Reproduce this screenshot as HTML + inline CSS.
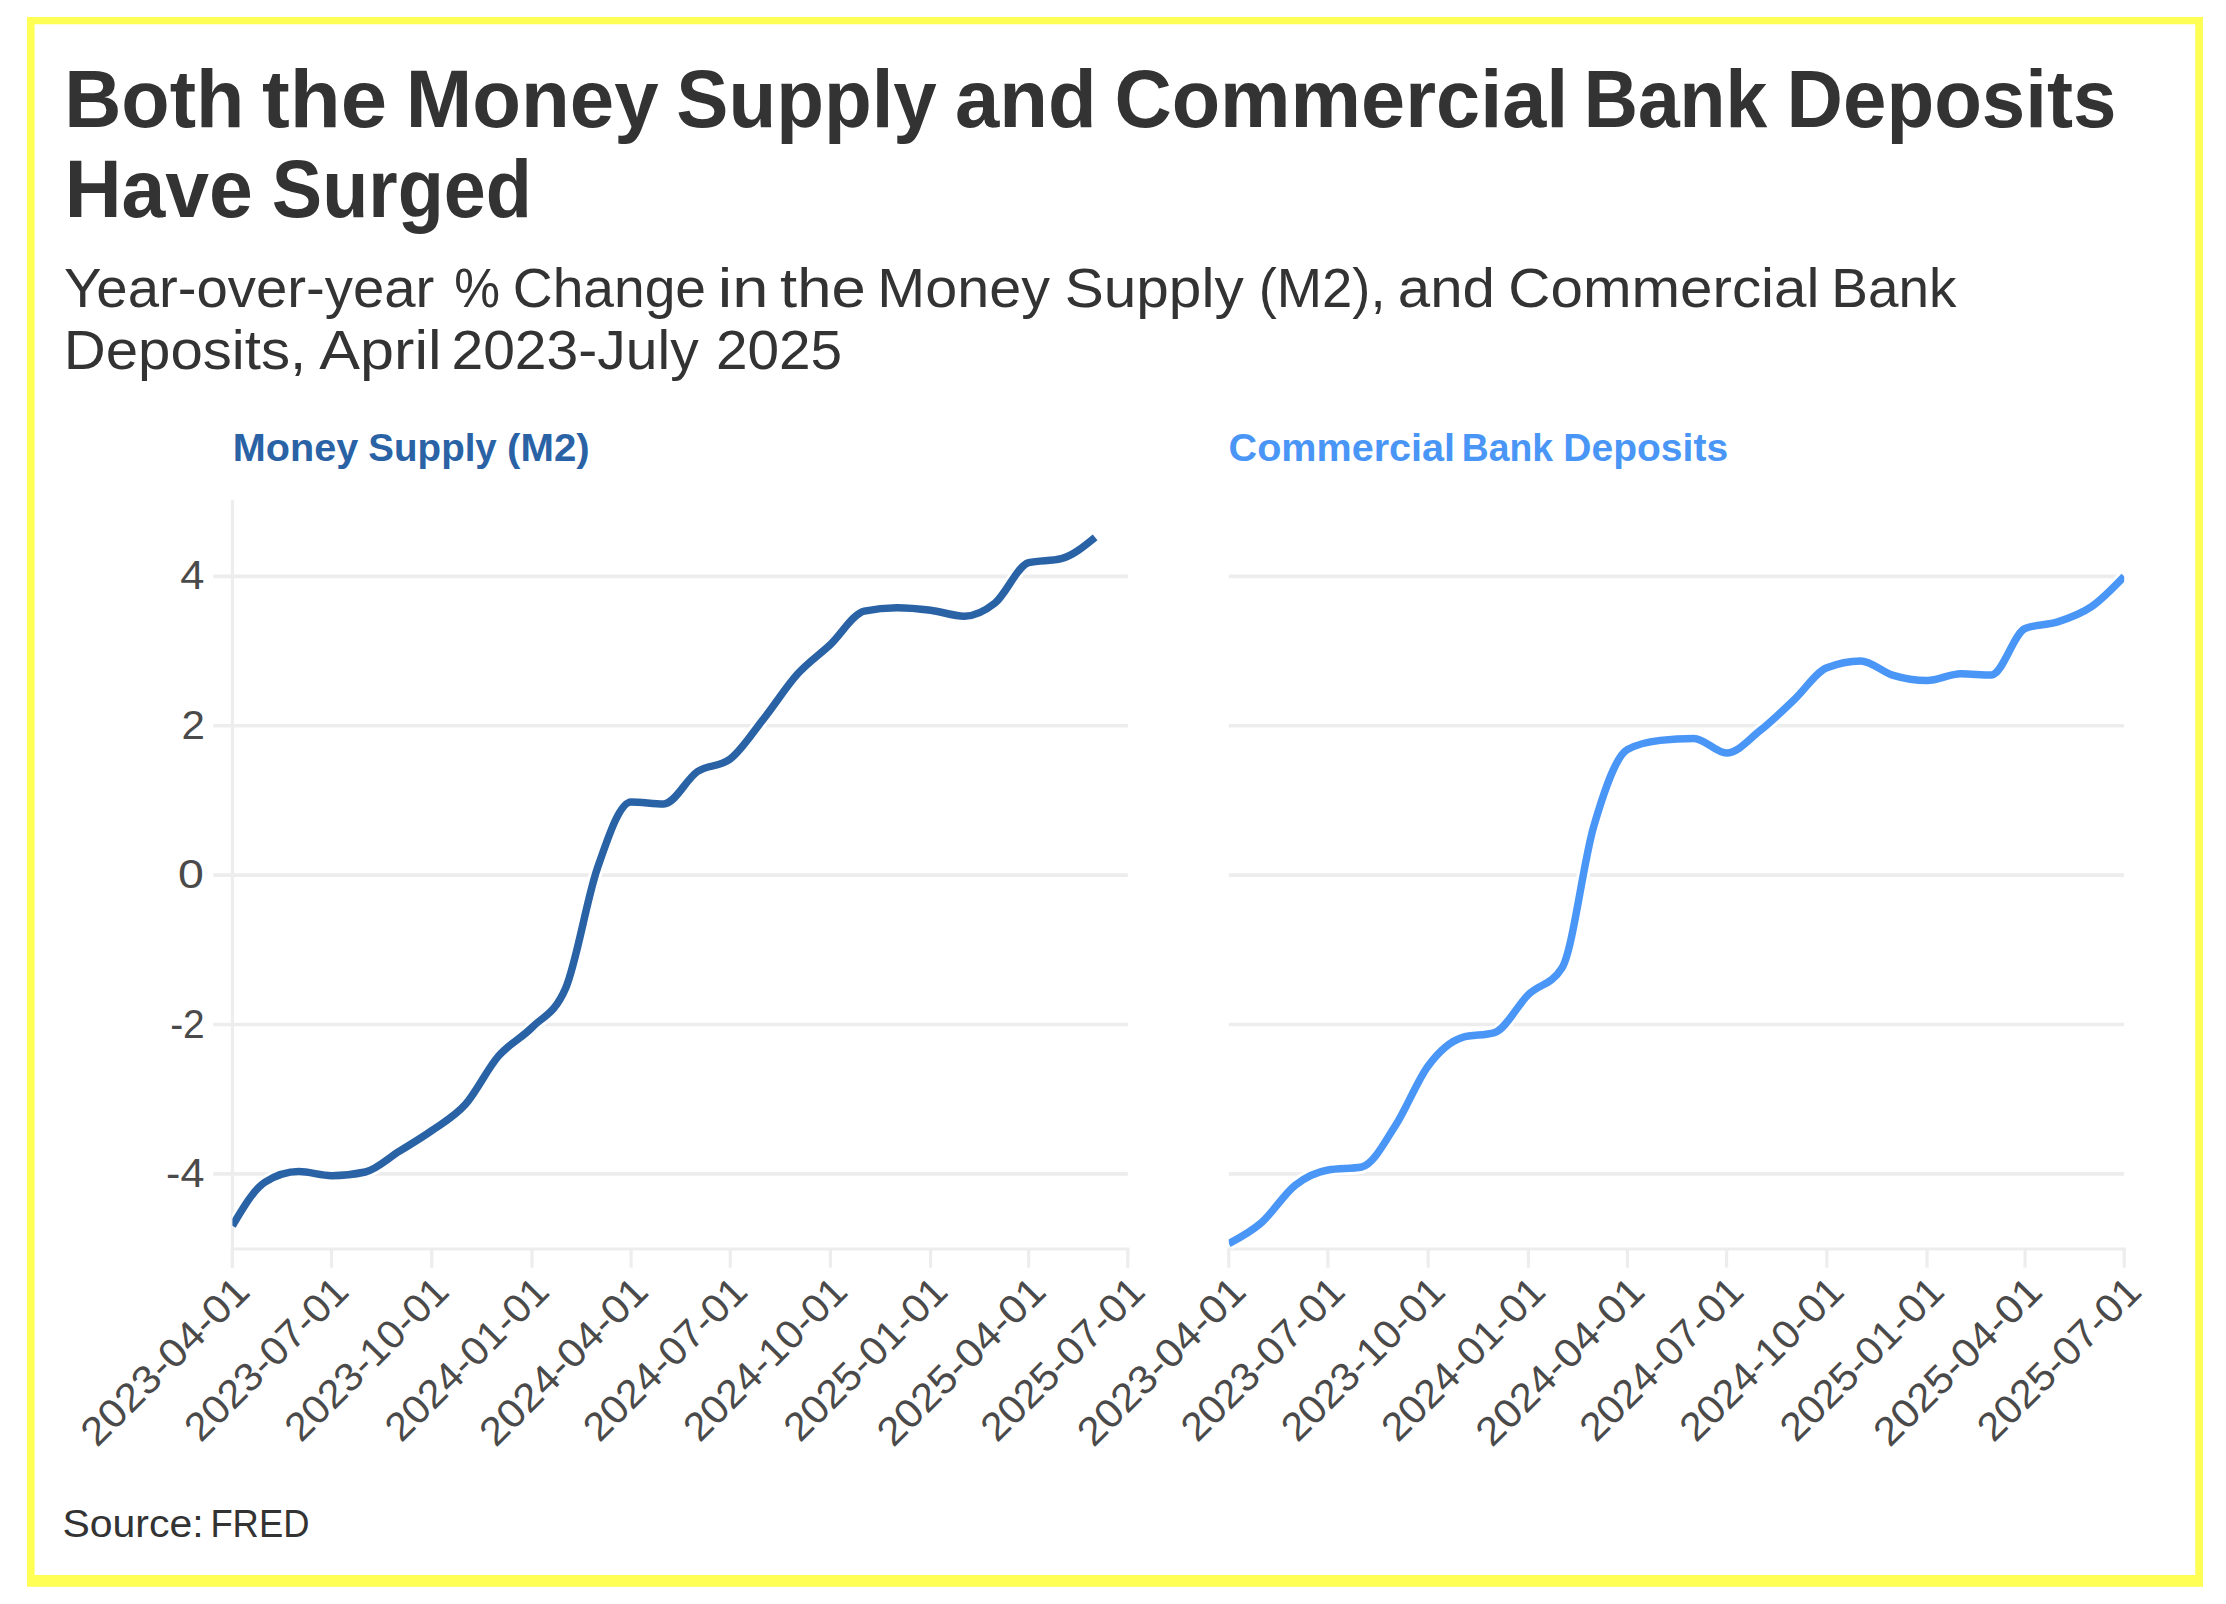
<!DOCTYPE html>
<html lang="en"><head><meta charset="utf-8"><title>Both the Money Supply and Commercial Bank Deposits Have Surged</title>
<style>
html,body{margin:0;padding:0;background:#fff;}
body{width:2226px;height:1604px;position:relative;overflow:hidden;font-family:"Liberation Sans",sans-serif;}
svg text{font-family:"Liberation Sans",sans-serif;}
.ttl{font-size:80.7px;font-weight:700;fill:#333;}
.sub{font-size:55.4px;fill:#333;}
.st{font-size:38.4px;font-weight:700;}
.yl{font-size:39.8px;fill:#4a4a4a;}
.xl{font-size:39.8px;fill:#4a4a4a;}
.src{font-size:38.4px;fill:#333;}
</style></head><body>
<svg width="2226" height="1604" viewBox="0 0 2226 1604" style="position:absolute;left:0;top:0">
<path fill="#ffff54" fill-rule="evenodd" d="M27,16.9H2203V1586.8H27Z M34.6,24.3H2195.3V1575.1H34.6Z"/>
<line x1="213.3" x2="1127.8" y1="576.4" y2="576.4" stroke="#ededed" stroke-width="3.6"/>
<line x1="1228.8" x2="2124.2" y1="576.4" y2="576.4" stroke="#ededed" stroke-width="3.6"/>
<line x1="213.3" x2="1127.8" y1="725.8" y2="725.8" stroke="#ededed" stroke-width="3.6"/>
<line x1="1228.8" x2="2124.2" y1="725.8" y2="725.8" stroke="#ededed" stroke-width="3.6"/>
<line x1="213.3" x2="1127.8" y1="875.1" y2="875.1" stroke="#ededed" stroke-width="3.6"/>
<line x1="1228.8" x2="2124.2" y1="875.1" y2="875.1" stroke="#ededed" stroke-width="3.6"/>
<line x1="213.3" x2="1127.8" y1="1024.5" y2="1024.5" stroke="#ededed" stroke-width="3.6"/>
<line x1="1228.8" x2="2124.2" y1="1024.5" y2="1024.5" stroke="#ededed" stroke-width="3.6"/>
<line x1="213.3" x2="1127.8" y1="1173.9" y2="1173.9" stroke="#ededed" stroke-width="3.6"/>
<line x1="1228.8" x2="2124.2" y1="1173.9" y2="1173.9" stroke="#ededed" stroke-width="3.6"/>
<line x1="232.4" x2="232.4" y1="499.8" y2="1267.7" stroke="#ededed" stroke-width="3.2"/>
<line x1="230.8" x2="1129.4" y1="1249" y2="1249" stroke="#ededed" stroke-width="3.2"/>
<line x1="1227.2" x2="2125.8" y1="1249" y2="1249" stroke="#ededed" stroke-width="3.2"/>
<line x1="232.40" x2="232.40" y1="1249" y2="1267.7" stroke="#ededed" stroke-width="3.2"/>
<line x1="1228.80" x2="1228.80" y1="1249" y2="1267.7" stroke="#ededed" stroke-width="3.2"/>
<line x1="331.53" x2="331.53" y1="1249" y2="1267.7" stroke="#ededed" stroke-width="3.2"/>
<line x1="1327.93" x2="1327.93" y1="1249" y2="1267.7" stroke="#ededed" stroke-width="3.2"/>
<line x1="431.74" x2="431.74" y1="1249" y2="1267.7" stroke="#ededed" stroke-width="3.2"/>
<line x1="1428.14" x2="1428.14" y1="1249" y2="1267.7" stroke="#ededed" stroke-width="3.2"/>
<line x1="531.96" x2="531.96" y1="1249" y2="1267.7" stroke="#ededed" stroke-width="3.2"/>
<line x1="1528.36" x2="1528.36" y1="1249" y2="1267.7" stroke="#ededed" stroke-width="3.2"/>
<line x1="631.08" x2="631.08" y1="1249" y2="1267.7" stroke="#ededed" stroke-width="3.2"/>
<line x1="1627.48" x2="1627.48" y1="1249" y2="1267.7" stroke="#ededed" stroke-width="3.2"/>
<line x1="730.21" x2="730.21" y1="1249" y2="1267.7" stroke="#ededed" stroke-width="3.2"/>
<line x1="1726.61" x2="1726.61" y1="1249" y2="1267.7" stroke="#ededed" stroke-width="3.2"/>
<line x1="830.42" x2="830.42" y1="1249" y2="1267.7" stroke="#ededed" stroke-width="3.2"/>
<line x1="1826.82" x2="1826.82" y1="1249" y2="1267.7" stroke="#ededed" stroke-width="3.2"/>
<line x1="930.64" x2="930.64" y1="1249" y2="1267.7" stroke="#ededed" stroke-width="3.2"/>
<line x1="1927.04" x2="1927.04" y1="1249" y2="1267.7" stroke="#ededed" stroke-width="3.2"/>
<line x1="1028.67" x2="1028.67" y1="1249" y2="1267.7" stroke="#ededed" stroke-width="3.2"/>
<line x1="2025.07" x2="2025.07" y1="1249" y2="1267.7" stroke="#ededed" stroke-width="3.2"/>
<line x1="1127.80" x2="1127.80" y1="1249" y2="1267.7" stroke="#ededed" stroke-width="3.2"/>
<line x1="2124.20" x2="2124.20" y1="1249" y2="1267.7" stroke="#ededed" stroke-width="3.2"/>
<text class="yl"  y="589.40"><tspan x="180.30" textLength="24.17" lengthAdjust="spacingAndGlyphs">4</tspan></text>
<text class="yl"  y="738.80"><tspan x="181.48" textLength="23.44" lengthAdjust="spacingAndGlyphs">2</tspan></text>
<text class="yl"  y="888.10"><tspan x="177.99" textLength="25.83" lengthAdjust="spacingAndGlyphs">0</tspan></text>
<text class="yl"  y="1037.50"><tspan x="170.17" textLength="34.58" lengthAdjust="spacingAndGlyphs">-2</tspan></text>
<text class="yl"  y="1186.90"><tspan x="166.08" textLength="38.38" lengthAdjust="spacingAndGlyphs">-4</tspan></text>
<text class="xl" transform="translate(250.30,1295.00) rotate(-45) scale(1.0750,1) translate(-201.64,0)">2023-04-01</text>
<text class="xl" transform="translate(1246.70,1295.00) rotate(-45) scale(1.0750,1) translate(-201.64,0)">2023-04-01</text>
<text class="xl" transform="translate(349.43,1295.00) rotate(-45) scale(1.0422,1) translate(-201.64,0)">2023-07-01</text>
<text class="xl" transform="translate(1345.83,1295.00) rotate(-45) scale(1.0422,1) translate(-201.64,0)">2023-07-01</text>
<text class="xl" transform="translate(449.64,1295.00) rotate(-45) scale(1.0422,1) translate(-201.64,0)">2023-10-01</text>
<text class="xl" transform="translate(1446.04,1295.00) rotate(-45) scale(1.0422,1) translate(-201.64,0)">2023-10-01</text>
<text class="xl" transform="translate(549.86,1295.00) rotate(-45) scale(1.0422,1) translate(-201.64,0)">2024-01-01</text>
<text class="xl" transform="translate(1546.26,1295.00) rotate(-45) scale(1.0422,1) translate(-201.64,0)">2024-01-01</text>
<text class="xl" transform="translate(648.98,1295.00) rotate(-45) scale(1.0750,1) translate(-201.64,0)">2024-04-01</text>
<text class="xl" transform="translate(1645.38,1295.00) rotate(-45) scale(1.0750,1) translate(-201.64,0)">2024-04-01</text>
<text class="xl" transform="translate(748.11,1295.00) rotate(-45) scale(1.0422,1) translate(-201.64,0)">2024-07-01</text>
<text class="xl" transform="translate(1744.51,1295.00) rotate(-45) scale(1.0422,1) translate(-201.64,0)">2024-07-01</text>
<text class="xl" transform="translate(848.32,1295.00) rotate(-45) scale(1.0422,1) translate(-201.64,0)">2024-10-01</text>
<text class="xl" transform="translate(1844.72,1295.00) rotate(-45) scale(1.0422,1) translate(-201.64,0)">2024-10-01</text>
<text class="xl" transform="translate(948.54,1295.00) rotate(-45) scale(1.0422,1) translate(-201.64,0)">2025-01-01</text>
<text class="xl" transform="translate(1944.94,1295.00) rotate(-45) scale(1.0422,1) translate(-201.64,0)">2025-01-01</text>
<text class="xl" transform="translate(1046.57,1295.00) rotate(-45) scale(1.0750,1) translate(-201.64,0)">2025-04-01</text>
<text class="xl" transform="translate(2042.97,1295.00) rotate(-45) scale(1.0750,1) translate(-201.64,0)">2025-04-01</text>
<text class="xl" transform="translate(1145.70,1295.00) rotate(-45) scale(1.0422,1) translate(-201.64,0)">2025-07-01</text>
<text class="xl" transform="translate(2142.10,1295.00) rotate(-45) scale(1.0422,1) translate(-201.64,0)">2025-07-01</text>
<defs><clipPath id="cl"><rect x="232.4" y="480" width="895.4" height="790"/></clipPath><clipPath id="cr"><rect x="1228.8" y="480" width="895.4" height="790"/></clipPath></defs>
<path clip-path="url(#cl)" d="M232.40,1225.80C243.29,1207.34,254.19,1188.87,265.08,1182.10C276.33,1175.10,287.59,1171.60,298.85,1171.60C309.74,1171.60,320.63,1175.70,331.53,1175.70C342.78,1175.70,354.04,1174.47,365.29,1172.00C376.55,1169.53,387.81,1158.42,399.06,1151.40C409.95,1144.61,420.85,1138.30,431.74,1130.60C443.00,1122.65,454.25,1117.00,465.51,1104.30C476.40,1092.01,487.29,1069.10,498.19,1056.40C509.44,1043.28,520.70,1038.90,531.96,1027.50C543.21,1016.10,554.47,1014.33,565.72,988.00C576.25,963.37,586.78,899.12,597.31,868.50C608.57,835.77,619.83,801.90,631.08,801.90C641.97,801.90,652.87,803.90,663.76,803.90C675.02,803.90,686.27,779.00,697.53,771.50C708.42,764.24,719.31,767.33,730.21,759.00C741.46,750.39,752.72,732.50,763.98,718.30C775.23,704.10,786.49,686.22,797.74,673.80C808.64,661.78,819.53,654.75,830.42,644.50C841.68,633.91,852.93,613.61,864.19,611.20C875.08,608.87,885.98,607.70,896.87,607.70C908.13,607.70,919.38,608.78,930.64,610.20C941.89,611.62,953.15,616.20,964.41,616.20C974.57,616.20,984.74,611.17,994.91,603.10C1006.16,594.17,1017.42,565.52,1028.67,562.70C1039.57,559.97,1050.46,561.33,1061.35,558.60C1072.61,555.78,1083.87,546.59,1095.12,537.40" fill="none" stroke="#fff" stroke-width="13" stroke-linecap="butt" stroke-linejoin="round"/>
<path clip-path="url(#cl)" d="M232.40,1225.80C243.29,1207.34,254.19,1188.87,265.08,1182.10C276.33,1175.10,287.59,1171.60,298.85,1171.60C309.74,1171.60,320.63,1175.70,331.53,1175.70C342.78,1175.70,354.04,1174.47,365.29,1172.00C376.55,1169.53,387.81,1158.42,399.06,1151.40C409.95,1144.61,420.85,1138.30,431.74,1130.60C443.00,1122.65,454.25,1117.00,465.51,1104.30C476.40,1092.01,487.29,1069.10,498.19,1056.40C509.44,1043.28,520.70,1038.90,531.96,1027.50C543.21,1016.10,554.47,1014.33,565.72,988.00C576.25,963.37,586.78,899.12,597.31,868.50C608.57,835.77,619.83,801.90,631.08,801.90C641.97,801.90,652.87,803.90,663.76,803.90C675.02,803.90,686.27,779.00,697.53,771.50C708.42,764.24,719.31,767.33,730.21,759.00C741.46,750.39,752.72,732.50,763.98,718.30C775.23,704.10,786.49,686.22,797.74,673.80C808.64,661.78,819.53,654.75,830.42,644.50C841.68,633.91,852.93,613.61,864.19,611.20C875.08,608.87,885.98,607.70,896.87,607.70C908.13,607.70,919.38,608.78,930.64,610.20C941.89,611.62,953.15,616.20,964.41,616.20C974.57,616.20,984.74,611.17,994.91,603.10C1006.16,594.17,1017.42,565.52,1028.67,562.70C1039.57,559.97,1050.46,561.33,1061.35,558.60C1072.61,555.78,1083.87,546.59,1095.12,537.40" fill="none" stroke="#2a62a6" stroke-width="7.5" stroke-linecap="butt" stroke-linejoin="round"/>
<path clip-path="url(#cr)" d="M1228.80,1243.60C1239.69,1237.85,1250.59,1232.09,1261.48,1222.60C1272.73,1212.79,1283.99,1193.99,1295.25,1185.20C1306.14,1176.69,1317.03,1171.94,1327.93,1170.00C1339.18,1168.00,1350.44,1169.00,1361.69,1167.00C1372.95,1165.00,1384.21,1142.74,1395.46,1125.50C1406.35,1108.82,1417.25,1080.49,1428.14,1065.90C1439.40,1050.83,1450.65,1041.04,1461.91,1037.60C1472.80,1034.27,1483.69,1035.93,1494.59,1032.60C1505.84,1029.16,1517.10,1005.42,1528.36,994.60C1539.61,983.78,1550.87,985.63,1562.12,967.70C1572.65,950.92,1583.18,862.42,1593.71,826.50C1604.97,788.10,1616.23,755.77,1627.48,749.50C1638.37,743.43,1649.27,741.69,1660.16,740.40C1671.42,739.07,1682.67,738.40,1693.93,738.40C1704.82,738.40,1715.71,753.00,1726.61,753.00C1737.86,753.00,1749.12,739.18,1760.38,730.30C1771.63,721.42,1782.89,710.30,1794.14,699.70C1805.04,689.44,1815.93,672.25,1826.82,667.80C1838.08,663.20,1849.33,660.90,1860.59,660.90C1871.48,660.90,1882.38,672.13,1893.27,675.40C1904.53,678.77,1915.78,680.50,1927.04,680.50C1938.29,680.50,1949.55,673.80,1960.81,673.80C1970.97,673.80,1981.14,675.00,1991.31,675.00C2002.56,675.00,2013.82,633.05,2025.07,628.50C2035.97,624.10,2046.86,625.43,2057.75,621.90C2069.01,618.25,2080.27,614.50,2091.52,606.70C2102.41,599.16,2113.31,587.78,2124.20,576.40" fill="none" stroke="#fff" stroke-width="13" stroke-linecap="butt" stroke-linejoin="round"/>
<path clip-path="url(#cr)" d="M1228.80,1243.60C1239.69,1237.85,1250.59,1232.09,1261.48,1222.60C1272.73,1212.79,1283.99,1193.99,1295.25,1185.20C1306.14,1176.69,1317.03,1171.94,1327.93,1170.00C1339.18,1168.00,1350.44,1169.00,1361.69,1167.00C1372.95,1165.00,1384.21,1142.74,1395.46,1125.50C1406.35,1108.82,1417.25,1080.49,1428.14,1065.90C1439.40,1050.83,1450.65,1041.04,1461.91,1037.60C1472.80,1034.27,1483.69,1035.93,1494.59,1032.60C1505.84,1029.16,1517.10,1005.42,1528.36,994.60C1539.61,983.78,1550.87,985.63,1562.12,967.70C1572.65,950.92,1583.18,862.42,1593.71,826.50C1604.97,788.10,1616.23,755.77,1627.48,749.50C1638.37,743.43,1649.27,741.69,1660.16,740.40C1671.42,739.07,1682.67,738.40,1693.93,738.40C1704.82,738.40,1715.71,753.00,1726.61,753.00C1737.86,753.00,1749.12,739.18,1760.38,730.30C1771.63,721.42,1782.89,710.30,1794.14,699.70C1805.04,689.44,1815.93,672.25,1826.82,667.80C1838.08,663.20,1849.33,660.90,1860.59,660.90C1871.48,660.90,1882.38,672.13,1893.27,675.40C1904.53,678.77,1915.78,680.50,1927.04,680.50C1938.29,680.50,1949.55,673.80,1960.81,673.80C1970.97,673.80,1981.14,675.00,1991.31,675.00C2002.56,675.00,2013.82,633.05,2025.07,628.50C2035.97,624.10,2046.86,625.43,2057.75,621.90C2069.01,618.25,2080.27,614.50,2091.52,606.70C2102.41,599.16,2113.31,587.78,2124.20,576.40" fill="none" stroke="#4a96f6" stroke-width="7.5" stroke-linecap="butt" stroke-linejoin="round"/>
<text class="st" fill="#2a62a6" y="461.00"><tspan x="232.85" textLength="125.57" lengthAdjust="spacingAndGlyphs">Money</tspan> <tspan x="368.39" textLength="128.42" lengthAdjust="spacingAndGlyphs">Supply</tspan> <tspan x="507.10" textLength="82.60" lengthAdjust="spacingAndGlyphs">(M2)</tspan></text>
<text class="st" fill="#4a96f6" y="461.00"><tspan x="1228.58" textLength="226.52" lengthAdjust="spacingAndGlyphs">Commercial</tspan> <tspan x="1461.70" textLength="91.26" lengthAdjust="spacingAndGlyphs">Bank</tspan> <tspan x="1563.39" textLength="164.71" lengthAdjust="spacingAndGlyphs">Deposits</tspan></text>
<text class="ttl"  y="127.20"><tspan x="64.21" textLength="180.10" lengthAdjust="spacingAndGlyphs">Both</tspan> <tspan x="261.98" textLength="125.07" lengthAdjust="spacingAndGlyphs">the</tspan> <tspan x="405.86" textLength="252.77" lengthAdjust="spacingAndGlyphs">Money</tspan> <tspan x="676.35" textLength="260.47" lengthAdjust="spacingAndGlyphs">Supply</tspan> <tspan x="954.97" textLength="141.69" lengthAdjust="spacingAndGlyphs">and</tspan> <tspan x="1114.45" textLength="453.87" lengthAdjust="spacingAndGlyphs">Commercial</tspan> <tspan x="1583.68" textLength="183.55" lengthAdjust="spacingAndGlyphs">Bank</tspan> <tspan x="1786.57" textLength="329.93" lengthAdjust="spacingAndGlyphs">Deposits</tspan></text>
<text class="ttl"  y="217.10"><tspan x="64.63" textLength="188.26" lengthAdjust="spacingAndGlyphs">Have</tspan> <tspan x="271.82" textLength="260.15" lengthAdjust="spacingAndGlyphs">Surged</tspan></text>
<text class="sub"  y="306.70"><tspan x="63.96" textLength="370.37" lengthAdjust="spacingAndGlyphs">Year-over-year</tspan> <tspan x="454.17" textLength="45.77" lengthAdjust="spacingAndGlyphs">%</tspan> <tspan x="512.80" textLength="193.25" lengthAdjust="spacingAndGlyphs">Change</tspan> <tspan x="717.84" textLength="50.69" lengthAdjust="spacingAndGlyphs">in</tspan> <tspan x="780.07" textLength="85.57" lengthAdjust="spacingAndGlyphs">the</tspan> <tspan x="877.38" textLength="172.63" lengthAdjust="spacingAndGlyphs">Money</tspan> <tspan x="1064.74" textLength="178.97" lengthAdjust="spacingAndGlyphs">Supply</tspan> <tspan x="1258.73" textLength="126.86" lengthAdjust="spacingAndGlyphs">(M2),</tspan> <tspan x="1397.83" textLength="97.12" lengthAdjust="spacingAndGlyphs">and</tspan> <tspan x="1508.34" textLength="311.16" lengthAdjust="spacingAndGlyphs">Commercial</tspan> <tspan x="1831.30" textLength="125.12" lengthAdjust="spacingAndGlyphs">Bank</tspan></text>
<text class="sub"  y="369.30"><tspan x="63.73" textLength="242.50" lengthAdjust="spacingAndGlyphs">Deposits,</tspan> <tspan x="319.38" textLength="122.21" lengthAdjust="spacingAndGlyphs">April</tspan> <tspan x="451.43" textLength="247.28" lengthAdjust="spacingAndGlyphs">2023-July</tspan> <tspan x="715.95" textLength="126.24" lengthAdjust="spacingAndGlyphs">2025</tspan></text>
<text class="src"  y="1537.40"><tspan x="62.44" textLength="141.20" lengthAdjust="spacingAndGlyphs">Source:</tspan> <tspan x="210.42" textLength="99.02" lengthAdjust="spacingAndGlyphs">FRED</tspan></text>
</svg>
</body></html>
